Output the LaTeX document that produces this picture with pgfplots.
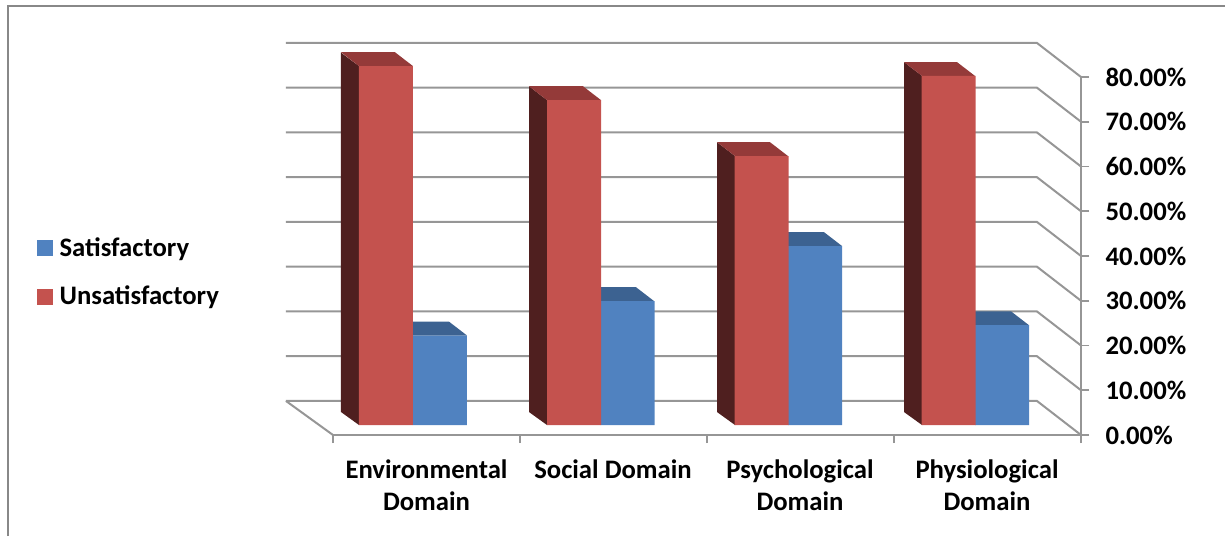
\documentclass[border=0pt]{standalone}
\usepackage{fontspec}
\setmainfont{Carlito}
\usepackage{pgfplots}
\pgfplotsset{compat=1.18}

\definecolor{redfront}{HTML}{C4524E}
\definecolor{redtop}{HTML}{943A39}
\definecolor{redside}{HTML}{4F1F1F}
\definecolor{bluefront}{HTML}{5082C0}
\definecolor{bluetop}{HTML}{3C6291}
\definecolor{wallgrey}{HTML}{969696}
\definecolor{framegrey}{HTML}{888888}

% wall line: runs along the back wall, then down the side wall to the front
\newcommand{\wallline}[2]{%
  \addplot[wallgrey,line width=2pt,forget plot] coordinates {(286,#2) (1037,#2) (1081,#1)};%
}

\begin{document}
\begin{tikzpicture}
\useasboundingbox (-333pt,-101pt) rectangle (892pt,435pt);
\begin{axis}[
  scale only axis,width=748pt,height=358pt,
  xmin=333,xmax=1081,ymin=0,ymax=80,clip=false,
  axis x line=bottom,axis y line=right,
  axis line style={wallgrey,line width=2pt,-},
  tick style={wallgrey,line width=1.8pt},
  major tick length=8pt,
  tick align=outside,
  xtick={333,520,707,894,1081},xticklabels={},
  extra x ticks={426.5,613,800,987},
  extra x tick labels={Environmental\\Domain,Social Domain,Psychological\\Domain,Physiological\\Domain},
  extra x tick style={major tick length=0pt,
    xticklabel style={align=center,font=\fontsize{26.7}{32}\selectfont\bfseries,yshift=-21pt}},
  ytick={0,10,...,80},
  yticklabel={\pgfmathprintnumber[fixed,fixed zerofill,precision=2,assume math mode=true]{\tick}\%},
  yticklabel style={font=\fontsize{26.7}{30}\selectfont\bfseries,xshift=13pt},
  legend image code/.code={\fill[#1] (0pt,-7.5pt) rectangle (15pt,7.5pt);},
  legend style={at={(axis cs:37,36.4)},anchor=west,draw=none,fill=none,inner sep=0pt,
    font=\fontsize{26.7}{30}\selectfont\bfseries,row sep=28pt,
    nodes={inner xsep=0pt,inner ysep=0pt}},
  legend cell align=left,
]
\addlegendimage{bluefront}\addlegendentry{\hspace{7pt}Satisfactory}
\addlegendimage{redfront}\addlegendentry{\hspace{7pt}Unsatisfactory}

% back wall and side wall
\wallline{0}{7.6}
\wallline{10}{17.6}
\wallline{20}{27.6}
\wallline{30}{37.6}
\wallline{40}{47.6}
\wallline{50}{57.6}
\wallline{60}{67.6}
\wallline{70}{77.6}
\wallline{80}{87.6}
\addplot[wallgrey,line width=2pt,forget plot] coordinates {(286,7.6) (333,0)};

% Satisfactory: top faces, then front faces
\addplot[fill=bluetop,draw=none,forget plot,yshift=10pt] coordinates {(413,20.0) (395,23.1) (449,23.1) (467,20.0)} -- cycle;
\addplot[fill=bluetop,draw=none,forget plot,yshift=10pt] coordinates {(601,27.7) (583,30.8) (636,30.8) (654,27.7)} -- cycle;
\addplot[fill=bluetop,draw=none,forget plot,yshift=10pt] coordinates {(788,40.0) (770,43.1) (824,43.1) (842,40.0)} -- cycle;
\addplot[fill=bluetop,draw=none,forget plot,yshift=10pt] coordinates {(975,22.3) (957,25.4) (1011,25.4) (1029,22.3)} -- cycle;
\addplot[ybar,bar width=54pt,bar shift=0pt,fill=bluefront,draw=none,forget plot,yshift=10pt]
  coordinates {(440,20.0) (627.5,27.7) (815,40.0) (1002,22.3)};

% Unsatisfactory: side faces, top faces, then front faces
\addplot[fill=redside,draw=none,forget plot,yshift=10pt] coordinates {(359,0) (341,2.9) (341,83.2) (359,80.2)} -- cycle;
\addplot[fill=redside,draw=none,forget plot,yshift=10pt] coordinates {(547,0) (529,2.9) (529,75.7) (547,72.6)} -- cycle;
\addplot[fill=redside,draw=none,forget plot,yshift=10pt] coordinates {(735,0) (717,2.9) (717,63.2) (735,60.1)} -- cycle;
\addplot[fill=redside,draw=none,forget plot,yshift=10pt] coordinates {(922,0) (904,2.9) (904,81.1) (922,78.0)} -- cycle;
\addplot[fill=redtop,draw=none,forget plot,yshift=10pt] coordinates {(359,80.2) (341,83.3) (395,83.3) (413,80.2)} -- cycle;
\addplot[fill=redtop,draw=none,forget plot,yshift=10pt] coordinates {(547,72.6) (529,75.7) (583,75.7) (601,72.6)} -- cycle;
\addplot[fill=redtop,draw=none,forget plot,yshift=10pt] coordinates {(735,60.1) (717,63.2) (770,63.2) (788,60.1)} -- cycle;
\addplot[fill=redtop,draw=none,forget plot,yshift=10pt] coordinates {(922,78.0) (904,81.1) (957,81.1) (975,78.0)} -- cycle;
\addplot[ybar,bar width=54pt,bar shift=0pt,fill=redfront,draw=none,forget plot,yshift=10pt]
  coordinates {(386,80.2) (574,72.6) (761.5,60.1) (948.5,78.0)};
\end{axis}
% chart area frame
\draw[framegrey,line width=2pt] (-325pt,-101pt) -- (-325pt,429pt) -- (892pt,429pt);
\end{tikzpicture}
\end{document}
